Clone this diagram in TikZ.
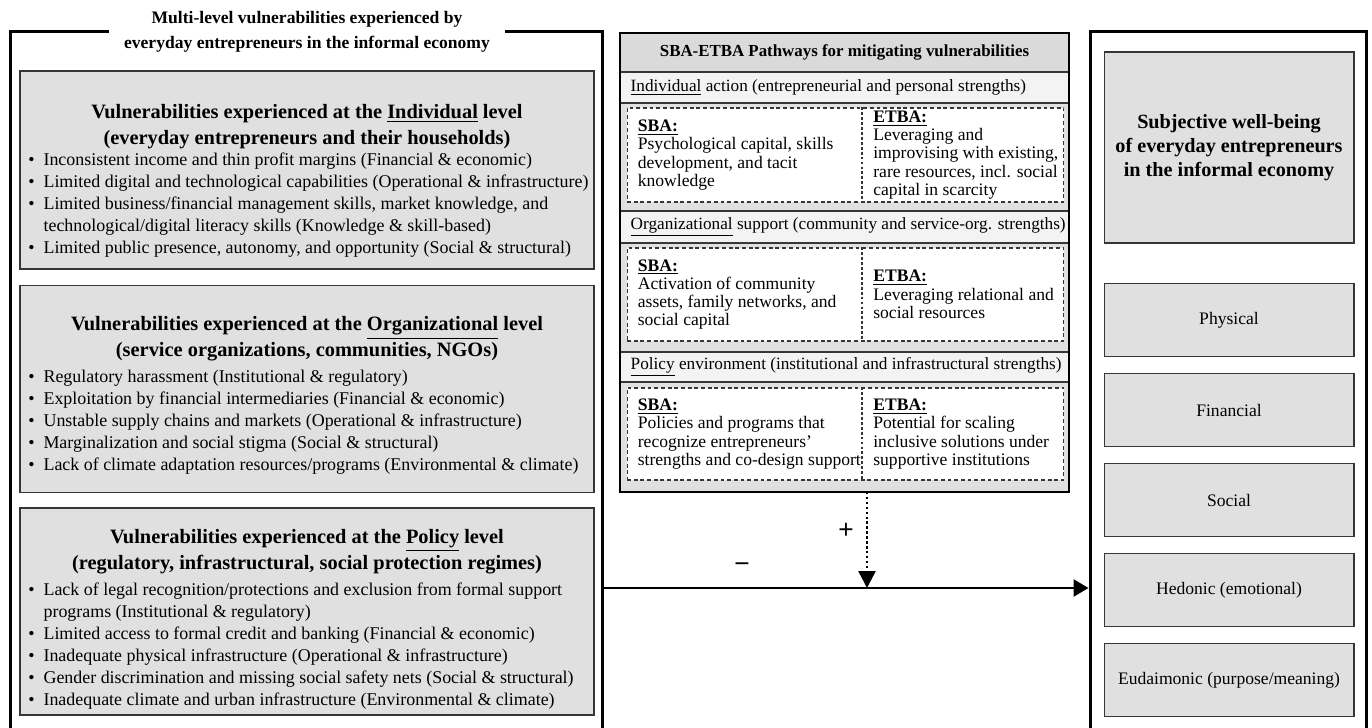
\documentclass[tikz,border=0pt]{standalone}
\usepackage{fontspec}
\setmainfont{Liberation Serif}
\newfontfamily\signfont{Liberation Sans}
\usetikzlibrary{arrows.meta,positioning}
\definecolor{panelgray}{HTML}{E0E0E0}
\definecolor{headgray}{HTML}{DADADA}
\definecolor{rowgray}{HTML}{F3F3F3}
\definecolor{edge}{HTML}{363636}
\newcommand{\bitem}{\makebox[0.85em][l]{\textbullet}}
\newcommand{\bcont}{\hspace*{0.85em}}
\newcommand{\lab}[1]{\textbf{\underline{#1}}}
\tikzset{
  frame/.style={draw=black, line width=1.7pt, inner sep=0pt},
  frametitle/.style={fill=white, align=center, inner sep=0pt, minimum width=7.94cm,
    minimum height=1.1cm, font=\fontsize{10}{14.5}\selectfont\bfseries},
  vulbox/.style={draw=edge, line width=0.85pt, fill=panelgray, inner sep=0pt,
    minimum width=11.48cm},
  vulhead/.style={align=center, inner sep=0pt, font=\fontsize{11.6}{14.7}\selectfont\bfseries},
  vullist/.style={align=left, inner sep=0pt, anchor=west, font=\fontsize{10.2}{12.5}\selectfont},
  pathbox/.style={fill=panelgray, inner sep=0pt, outer sep=0pt,
    minimum width=8.98cm, minimum height=9.18cm},
  pathrow/.style={draw=edge, line width=0.8pt, inner sep=0pt, minimum width=8.98cm},
  rowtext/.style={inner sep=0pt, anchor=west, font=\fontsize{9.8}{11}\selectfont},
  cellbox/.style={draw=edge, line width=0.6pt, dash pattern=on 2.2pt off 1.6pt,
    fill=white, inner sep=0pt, minimum width=8.74cm},
  celltext/.style={align=left, inner sep=0pt, anchor=west, font=\fontsize{10}{10.4}\selectfont},
  divline/.style={draw=edge, line width=0.6pt, dash pattern=on 1.6pt off 1.2pt},
  swbbox/.style={draw=edge, line width=0.6pt, fill=panelgray, inner sep=0pt,
    minimum width=5cm, minimum height=1.46cm, font=\fontsize{10}{12}\selectfont},
  swbhead/.style={swbbox, minimum height=3.82cm, align=center,
    font=\fontsize{11.5}{13.6}\selectfont\bfseries},
  mainarr/.style={-{Triangle[length=8.5pt, width=9.6pt]}, line width=1.4pt},
  dotarr/.style={-{Triangle[length=9.6pt, width=9.6pt]}, line width=1.4pt,
    dash pattern=on 1.4pt off 1.4pt},
  sign/.style={inner sep=0pt, font=\signfont\fontsize{15}{15}\selectfont}
}
\begin{document}
\begin{tikzpicture}[x=0.02cm, y=-0.02cm]
  \useasboundingbox (0,0) rectangle (1372,727);
  \clip (0,0) rectangle (1372,727);

  % left column: vulnerabilities
  \node[frame, minimum width=11.86cm, minimum height=14.58cm] (vulframe) at (306.5,395.5) {};
  \node[frametitle] (vultitle) at (307,32) {Multi-level vulnerabilities experienced by\\everyday entrepreneurs in the informal economy};

  \node[vulbox, minimum height=3.96cm] (indbox) at (307,170) {};
  \node[vulbox, minimum height=4.14cm, below=0.3cm of indbox] (orgbox) {};
  \node[vulbox, minimum height=4.14cm, below=0.28cm of orgbox] (polbox) {};

  \node[vulhead] (indhead) at (307,127) {Vulnerabilities experienced at the \underline{Individual} level\\(everyday entrepreneurs and their households)};
  \node[vullist] (indlist) at (28,205) {\bitem Inconsistent income and thin profit margins (Financial \& economic)\\
    \bitem Limited digital and technological capabilities (Operational \& infrastructure)\\
    \bitem Limited business/financial management skills, market knowledge, and\\
    \bcont technological/digital literacy skills (Knowledge \& skill-based)\\
    \bitem Limited public presence, autonomy, and opportunity (Social \& structural)};

  \node[vulhead] (orghead) at (307,339) {Vulnerabilities experienced at the \underline{Organizational} level\\(service organizations, communities, NGOs)};
  \node[vullist] (orglist) at (28,422) {\bitem Regulatory harassment (Institutional \& regulatory)\\
    \bitem Exploitation by financial intermediaries (Financial \& economic)\\
    \bitem Unstable supply chains and markets (Operational \& infrastructure)\\
    \bitem Marginalization and social stigma (Social \& structural)\\
    \bitem Lack of climate adaptation resources/programs (Environmental \& climate)};

  \node[vulhead] (polhead) at (307,552) {Vulnerabilities experienced at the \underline{Policy} level\\(regulatory, infrastructural, social protection regimes)};
  \node[vullist] (pollist) at (28,646) {\bitem Lack of legal recognition/protections and exclusion from formal support\\
    \bcont programs (Institutional \& regulatory)\\
    \bitem Limited access to formal credit and banking (Financial \& economic)\\
    \bitem Inadequate physical infrastructure (Operational \& infrastructure)\\
    \bitem Gender discrimination and missing social safety nets (Social \& structural)\\
    \bitem Inadequate climate and urban infrastructure (Environmental \& climate)};

  % middle column: SBA-ETBA pathways
  \node[pathbox] (pathbox) at (844.5,262.5) {};
  \node[pathrow, fill=headgray, minimum height=0.78cm, font=\fontsize{9.6}{11}\selectfont\bfseries] (pathhead) at (844.5,52.5) {SBA-ETBA Pathways for mitigating vulnerabilities};
  \node[pathrow, fill=rowgray, minimum height=0.62cm] (indrow) at (844.5,87.5) {};
  \node[pathrow, fill=rowgray, minimum height=0.64cm] (orgrow) at (844.5,227) {};
  \node[pathrow, fill=rowgray, minimum height=0.6cm] (polrow) at (844.5,367) {};
  \node[rowtext, right=0.22cm of indrow.west] (indrowtxt) {\underline{Individual} action (entrepreneurial and personal strengths)};
  \node[rowtext, right=0.22cm of orgrow.west] (orgrowtxt) {\underline{Organizational} support (community and service-org. strengths)};
  \node[rowtext, right=0.22cm of polrow.west] (polrowtxt) {\underline{Policy} environment (institutional and infrastructural strengths)};

  \coordinate (divx) at (862,0);
  \node[cellbox, minimum height=1.88cm] (indcell) at (845.5,155) {};
  \node[cellbox, minimum height=1.86cm] (orgcell) at (845.5,294.5) {};
  \node[cellbox, minimum height=1.84cm] (polcell) at (845.5,434) {};
  \draw[divline] (indcell.north -| divx) -- (indcell.south -| divx);
  \draw[divline] (orgcell.north -| divx) -- (orgcell.south -| divx);
  \draw[divline] (polcell.north -| divx) -- (polcell.south -| divx);

  \node[celltext, right=0.22cm of indcell.west] (indsba) {\lab{SBA:}\\Psychological capital, skills\\development, and tacit\\knowledge};
  \node[celltext] (indetba) at (873,155) {\lab{ETBA:}\\Leveraging and\\improvising with existing,\\rare resources, incl. social\\capital in scarcity};
  \node[celltext, right=0.22cm of orgcell.west] (orgsba) {\lab{SBA:}\\Activation of community\\assets, family networks, and\\social capital};
  \node[celltext] (orgetba) at (873,294.5) {\lab{ETBA:}\\Leveraging relational and\\social resources};
  \node[celltext, right=0.22cm of polcell.west] (polsba) {\lab{SBA:}\\Policies and programs that\\recognize entrepreneurs’\\strengths and co-design support};
  \node[celltext] (poletba) at (873,434) {\lab{ETBA:}\\Potential for scaling\\inclusive solutions under\\supportive institutions};
  \draw[line width=1.2pt] (pathbox.south west) rectangle (pathbox.north east);

  % right column: subjective well-being
  \node[frame, minimum width=5.54cm, minimum height=14.58cm] (swbframe) at (1228.5,395.5) {};
  \node[swbhead] (swbhead) at (1229,147.5) {Subjective well-being\\of everyday entrepreneurs\\in the informal economy};
  \node[swbbox] (physical) at (1229,320) {Physical};
  \node[swbbox, below=0.32cm of physical] (financial) {Financial};
  \node[swbbox, below=0.32cm of financial] (social) {Social};
  \node[swbbox, below=0.32cm of social] (hedonic) {Hedonic (emotional)};
  \node[swbbox, below=0.32cm of hedonic] (eudaimonic) {Eudaimonic (purpose/meaning)};

  % connectors
  \coordinate (meet) at (867,588);
  \draw[mainarr] (vulframe.east |- meet) -- (swbframe.west |- meet);
  \draw[dotarr] (pathbox.south -| meet) -- (meet);
  \node[sign] (plus) at (846,531) {+};
  \node[sign] (minus) at (742,568) {−};
\end{tikzpicture}
\end{document}
